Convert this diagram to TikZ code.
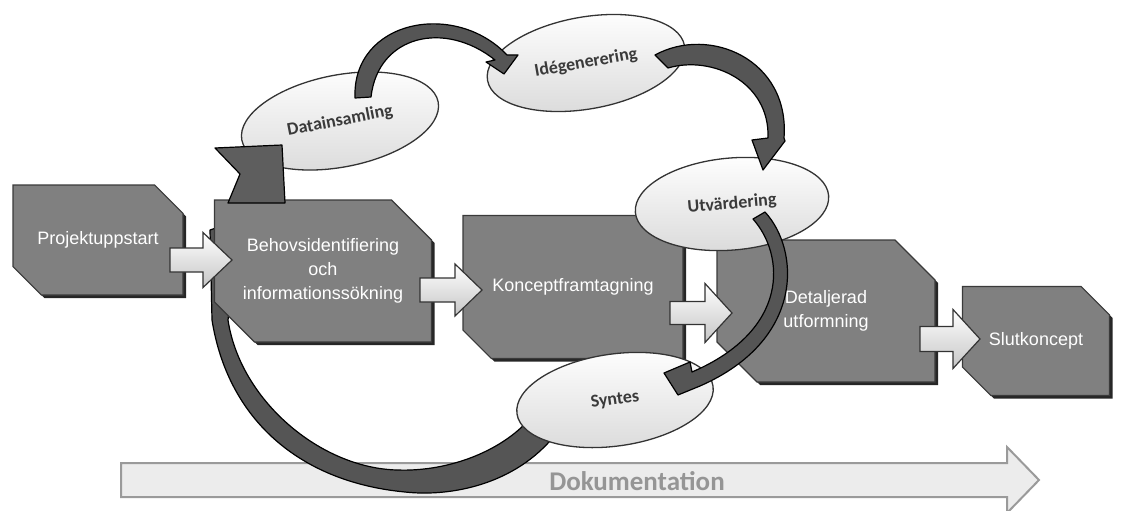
\documentclass[tikz,border=0pt]{standalone}
\usepackage{fontspec}
\setmainfont{Liberation Sans}
\newfontfamily\carl{Carlito}
\usetikzlibrary{shapes.geometric,shapes.misc,shadows}
\definecolor{boxgray}{HTML}{808080}
\definecolor{boxline}{HTML}{3A3A3A}
\definecolor{ellgray}{HTML}{DADADA}
\definecolor{ellline}{HTML}{333333}
\definecolor{elltext}{HTML}{3A3A3A}
\definecolor{loopgray}{HTML}{555555}
\definecolor{headgray}{HTML}{5E5E5E}
\definecolor{dokfill}{HTML}{ECECEC}
\definecolor{dokline}{HTML}{9A9A9A}
\definecolor{doktext}{HTML}{959595}
\tikzset{
  stage/.style={chamfered rectangle, chamfered rectangle corners={north east,south west},
    chamfered rectangle sep=20pt, fill=boxgray, draw=boxline, line width=1.2pt,
    text=white, font=\fontsize{18}{24}\selectfont, align=center, inner sep=0pt,
    drop shadow={shadow xshift=3pt, shadow yshift=-3pt, fill=black!85, opacity=1}},
  phase/.style={ellipse, draw=ellline, line width=1.3pt, top color=white, bottom color=ellgray,
    text=elltext, font=\carl\bfseries\fontsize{18}{20}\selectfont, inner sep=0pt},
  flow/.style={draw=black!80, line width=1.2pt, line join=miter, top color=white, bottom color=gray!45},
  dokarrow/.style={fill=dokfill, draw=dokline, line width=2pt, line join=miter},
  loop/.style={fill=loopgray, draw=black, line width=1.2pt, line join=round},
}
% #1 style, #2 tail coordinate, #3 shaft half width, #4 shaft length, #5 head extension, #6 head length
\newcommand\blockarrow[6]{\draw[#1] (#2) ++(0,-#3) -- ++(#4,0) -- ++(0,-#5) -- ++(#6,#3+#5)
  -- ++(-#6,#3+#5) -- ++(0,-#5) -- ++(-#4,0) -- cycle;}
\begin{document}
\begin{tikzpicture}[x=1pt,y=-1pt]
\useasboundingbox (0,0) rectangle (1124,511);

% documentation arrow
\coordinate (dok) at (121,480);
\blockarrow{dokarrow}{dok}{17}{886}{16}{32}
\node[font=\carl\bfseries\fontsize{27}{30}\selectfont, text=doktext] (doktxt) at (637,481) {Dokumentation};

% big loop arrow from Syntes back to Behovsidentifiering (band)
\path[loop] (555,435) .. controls (515,485) and (450,497) .. (405,492)
  .. controls (300,482) and (228,420) .. (212,320) -- (210,230) -- (240,220) -- (228,320)
  .. controls (240,400) and (320,468) .. (397,470)
  .. controls (450,472) and (505,450) .. (533,415) -- cycle;

% stage boxes
\node[stage, minimum width=170pt, minimum height=110pt] (b1) at (98,240) {Projektuppstart};
\node[stage, minimum width=217pt, minimum height=142pt] (b2) at (323,271) {Behovsidentifiering\\och\\informationssökning};
\node[stage, minimum width=220pt, minimum height=143pt] (b3) at (573,287) {Konceptframtagning};
\node[stage, minimum width=218pt, minimum height=142pt] (b4) at (826,311) {Detaljerad\\utformning};
\node[stage, minimum width=147pt, minimum height=109pt] (b5) at (1036,341) {Slutkoncept};

% flow arrows between boxes
\coordinate (a1) at (170,260);
\coordinate (a2) at (420,290);
\coordinate (a3) at (670,313);
\coordinate (a4) at (920,339);
\blockarrow{flow}{a1}{12}{33}{15.5}{29}
\blockarrow{flow}{a2}{12}{35}{14}{27}
\blockarrow{flow}{a3}{11.5}{35}{18}{27}
\blockarrow{flow}{a4}{12.5}{33}{17}{27}

% phase ellipses
\node[phase, rotate=11, minimum width=200pt, minimum height=92pt] (data) at (340,121) {Datainsamling};
\node[phase, rotate=10, minimum width=200pt, minimum height=92pt] (ide) at (586,63) {Idégenerering};
\node[phase, rotate=5, minimum width=194pt, minimum height=92pt] (utv) at (732,204) {Utvärdering};
\node[phase, rotate=8, minimum width=198pt, minimum height=92pt] (syn) at (615,400) {Syntes};

% head of the big loop arrow
\path[loop, fill=headgray] (215,148) -- (282,145) -- (285,203) -- (228,203) -- (240,174) -- cycle;

% Datainsamling -> Idegenerering
\path[loop] (355,98) .. controls (352,20) and (455,0) .. (507,55) -- (518,55) -- (504,74)
  -- (486,62) -- (495,60) .. controls (445,20) and (378,35) .. (371,97) -- cycle;

% Idegenerering -> Utvardering
\path[loop] (655,55) .. controls (710,25) and (790,60) .. (784,138) -- (785,141) -- (763,170)
  -- (752,140) -- (768,138) .. controls (770,82) and (712,55) .. (668,68) -- cycle;

% Utvardering -> Syntes
\path[loop] (765,212) .. controls (800,250) and (805,340) .. (700,386) -- (678,395) -- (664,373)
  -- (690,362) -- (692,372) .. controls (790,330) and (785,255) .. (753,219) -- cycle;
\end{tikzpicture}
\end{document}
